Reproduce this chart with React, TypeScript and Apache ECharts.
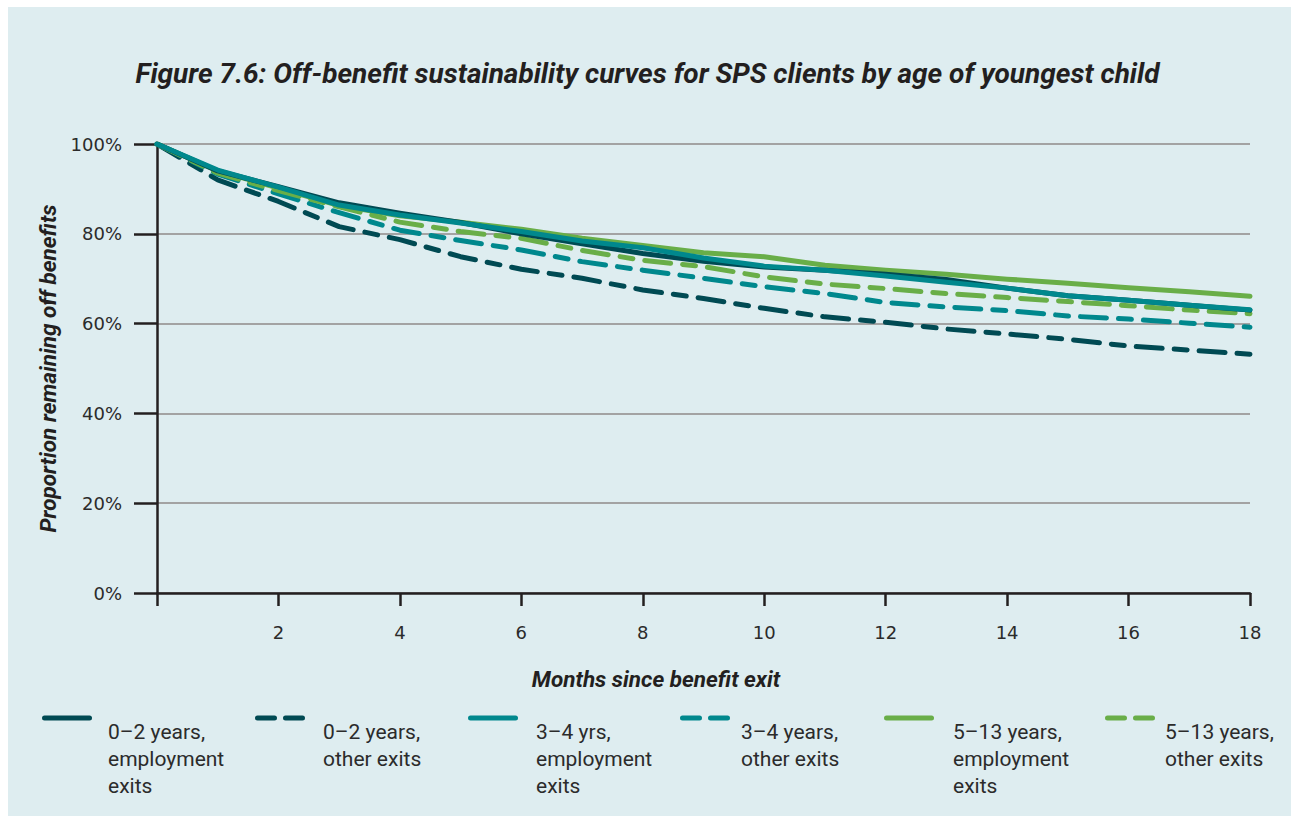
import React, { useEffect, useRef } from "react";
import * as echarts from "echarts";

const months = [0, 1, 2, 3, 4, 5, 6, 7, 8, 9, 10, 11, 12, 13, 14, 15, 16, 17, 18];
const emp02 = [100, 94, 90.5, 86.9, 84.6, 82.5, 80.0, 77.8, 75.6, 73.9, 72.6, 71.9, 71.0, 69.8, 67.9, 66.2, 65.2, 64.1, 63.0];
const oth02 = [100, 92, 87.2, 81.6, 78.7, 74.9, 72.1, 70.1, 67.5, 65.6, 63.4, 61.5, 60.3, 58.8, 57.7, 56.5, 55.0, 54.1, 53.2];
const emp34 = [100, 94.2, 90.4, 86.4, 84.2, 82.4, 80.5, 78.4, 76.9, 74.6, 72.8, 71.9, 70.6, 69.2, 67.9, 66.2, 65.2, 64.1, 63.1];
const oth34 = [100, 93.3, 88.9, 84.7, 80.8, 78.5, 76.4, 73.8, 71.9, 70.1, 68.2, 66.7, 64.7, 63.7, 62.9, 61.7, 61.0, 60.1, 59.2];
const emp513 = [100, 94, 90.2, 86.3, 84.0, 82.6, 81.0, 79.0, 77.4, 75.8, 74.9, 73.0, 71.9, 71.0, 69.9, 69.0, 68.0, 67.1, 66.1];
const oth513 = [100, 93.5, 89.6, 86.0, 82.6, 80.5, 79.0, 76.3, 74.1, 72.7, 70.4, 68.8, 67.8, 66.7, 65.8, 64.9, 64.0, 63.0, 62.2];

const seriesNames = [
  "0–2 years, employment exits",
  "0–2 years, other exits",
  "3–4 yrs, employment exits",
  "3–4 years, other exits",
  "5–13 years, employment exits",
  "5–13 years, other exits",
];
const legendLabels = [
  "0–2 years,\nemployment\nexits",
  "0–2 years,\nother exits",
  "3–4 yrs,\nemployment\nexits",
  "3–4 years,\nother exits",
  "5–13 years,\nemployment\nexits",
  "5–13 years,\nother exits",
];
const xTickLabels = ["", "2", "4", "6", "8", "10", "12", "14", "16", "18"];

const DARK = "#004a53";
const TEAL = "#00888d";
const GREEN = "#69ae48";
const DASH = [26, 12, 13, 12];
const FONT = "Roboto";
const TICK_FONT = "DejaVu Sans";

const SOLID_ICON =
  "path://M2.5,0H47.5A2.5,2.5,0,0,1,47.5,5H2.5A2.5,2.5,0,0,1,2.5,0Z";
const DASH_ICON =
  "path://M2.5,0H19.5A2.5,2.5,0,0,1,19.5,5H2.5A2.5,2.5,0,0,1,2.5,0Z" +
  "M30.5,0H47.5A2.5,2.5,0,0,1,47.5,5H30.5A2.5,2.5,0,0,1,30.5,0Z";

export default function App() {
  const ref = useRef<HTMLDivElement>(null);
  useEffect(() => {
    if (!ref.current) return;
    const chart = echarts.init(ref.current, undefined, { renderer: "svg" });
    const values = [emp02, oth02, emp34, oth34, emp513, oth513];
    const colors = [DARK, DARK, TEAL, TEAL, GREEN, GREEN];
    const dashed = [false, true, false, true, false, true];
    const zs = [4, 2, 5, 2, 3, 2];

    const series = values.map((vals, i) => ({
      name: seriesNames[i],
      type: "line",
      data: months.map((m, j) => [m, vals[j]]),
      symbol: "none",
      z: zs[i],
      color: colors[i],
      lineStyle: {
        color: colors[i],
        width: 5,
        type: dashed[i] ? DASH : "solid",
        cap: "round",
        join: "round",
      },
    }));

    const iconLeft = [42, 255, 468, 680, 884, 1105];
    const textLeft = [108, 323, 536, 741, 953, 1165];
    const iconCenterY = 719;
    const lh = 27;
    const legends = seriesNames.map((name, i) => {
      const n = legendLabels[i].split("\n").length;
      // blank lines above so that the first text line sits just below the icon
      const label = "\n".repeat(n) + legendLabels[i];
      const H = 2 * n * lh;
      const itemWidth = 50;
      const itemHeight = 5;
      return {
        show: true,
        left: iconLeft[i],
        top: iconCenterY - H / 2 - 1,
        padding: 0,
        itemWidth,
        itemHeight,
        selectedMode: false,
        data: [
          {
            name,
            icon: dashed[i] ? DASH_ICON : SOLID_ICON,
            itemStyle: { color: colors[i], borderWidth: 0 },
          },
        ],
        formatter: () => label,
        textStyle: {
          fontFamily: FONT,
          fontSize: 21,
          color: "#2b2b2b",
          lineHeight: lh,
          padding: [0, 0, 0, textLeft[i] - (iconLeft[i] + itemWidth + 5)],
        },
      };
    });

    chart.setOption({
      animation: false,
      backgroundColor: "#ffffff",
      graphic: [
        {
          type: "rect",
          z: -100,
          silent: true,
          shape: { x: 8, y: 7, width: 1283, height: 809 },
          style: { fill: "#deedf0" },
        },
      ],
      title: {
        text: "Figure 7.6: Off-benefit sustainability curves for SPS clients by age of youngest child",
        left: "center",
        top: 54,
        padding: [5, 0, 5, 9],
        textStyle: {
          fontFamily: FONT,
          fontSize: 28,
          fontWeight: "bold",
          fontStyle: "italic",
          color: "#231f20",
        },
      },
      legend: legends,
      grid: { left: 157, right: 45, top: 144, bottom: 226, containLabel: false },
      xAxis: {
        type: "value",
        min: 0,
        max: 18,
        interval: 2,
        name: "Months since benefit exit",
        nameLocation: "middle",
        nameGap: 74,
        nameTextStyle: {
          fontFamily: FONT,
          fontSize: 22.5,
          fontWeight: "bold",
          fontStyle: "italic",
          color: "#231f20",
          verticalAlign: "top",
          padding: [0, 95, 0, 0],
        },
        axisLine: { show: true, lineStyle: { color: "#231f20", width: 2.5 } },
        axisTick: { show: true, length: 13, lineStyle: { color: "#231f20", width: 2.5 } },
        axisLabel: {
          margin: 30,
          fontFamily: TICK_FONT,
          fontSize: 18,
          color: "#2b2b2b",
          formatter: (v: number) => xTickLabels[Math.round(v / 2)] ?? "",
        },
        splitLine: { show: false },
      },
      yAxis: {
        type: "value",
        min: 0,
        max: 100,
        interval: 20,
        name: "Proportion remaining off benefits",
        nameLocation: "middle",
        nameRotate: 90,
        nameGap: 98,
        nameTextStyle: {
          fontFamily: FONT,
          fontSize: 22.5,
          fontWeight: "bold",
          fontStyle: "italic",
          color: "#231f20",
        },
        axisLine: { show: true, lineStyle: { color: "#231f20", width: 2.5 } },
        axisTick: { show: true, length: 23, lineStyle: { color: "#231f20", width: 2.5 } },
        axisLabel: {
          margin: 35,
          fontFamily: TICK_FONT,
          fontSize: 18,
          color: "#2b2b2b",
          formatter: "{value}%",
        },
        splitLine: { show: true, lineStyle: { color: "#a3a3a3", width: 2 } },
      },
      series,
    });
    return () => chart.dispose();
  }, []);
  return (
    <div
      ref={ref}
      style={{ position: "absolute", left: 0, top: 0, width: 1295, height: 819 }}
    />
  );
}
